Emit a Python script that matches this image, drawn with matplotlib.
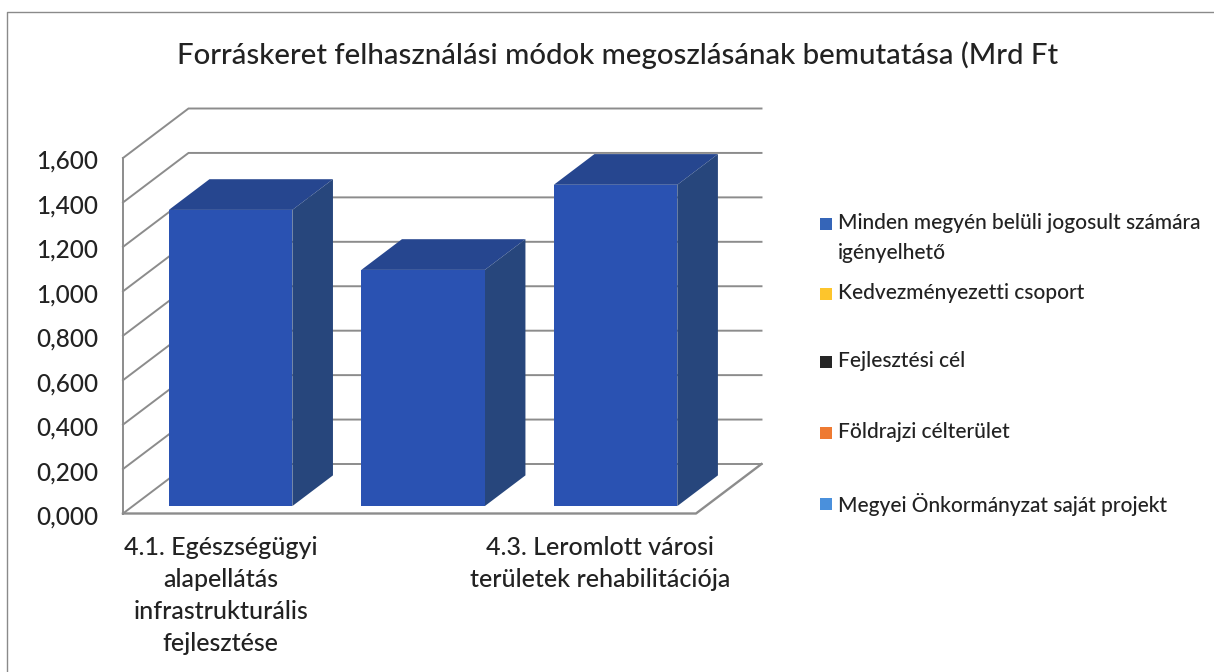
import numpy as np
import matplotlib
matplotlib.use('Agg')
import matplotlib.pyplot as plt
from matplotlib.patches import Rectangle
from matplotlib.transforms import ScaledTranslation

plt.rcParams['font.family'] = ['Lato', 'DejaVu Sans']
plt.rcParams['font.weight'] = 'medium'

# values
categories = ['4.1. Egészségügyi\nalapellátás\ninfrastrukturális\nfejlesztése', '',
              '4.3. Leromlott városi\nterületek rehabilitációja']
values = [1.333, 1.063, 1.446]
y_ticks = [0.0, 0.2, 0.4, 0.6, 0.8, 1.0, 1.2, 1.4, 1.6]
legend_labels = ['Minden megyén belüli jogosult számára\nigényelhető', 'Kedvezményezetti csoport',
                 'Fejlesztési cél', 'Földrajzi célterület', 'Megyei Önkormányzat saját projekt']
legend_colors = ['#3565b8', '#fdc52c', '#262626', '#ee7a32', '#4a90dc']

W, H = 1214, 672
fig = plt.figure(figsize=(W / 100, H / 100), dpi=100, facecolor='white')
ax = fig.add_axes([123 / W, 1 - 513.5 / H, 573 / W, 355.5 / H])
x_lo, x_hi = -0.508, 2.469
ax.set_xlim(x_lo, x_hi)
ax.set_ylim(0, 1.6)
ax.patch.set_visible(False)
for s in ax.spines.values():
    s.set_visible(False)

# oblique depth of the floor, in data units
x_unit = 573 / (x_hi - x_lo)
depth_x = 65.5 / x_unit
depth_y = 49.5 / (355.5 / 1.6)
grid_col = '#8c8c8c'
lw = 1.4

# back wall and left wall lines
for v in y_ticks:
    ax.plot([x_lo, x_lo + depth_x, x_hi + depth_x], [v, v + depth_y, v + depth_y],
            color=grid_col, lw=lw, clip_on=False, zorder=1, solid_joinstyle='miter')
ax.plot([x_lo, x_lo], [0, 1.6], color=grid_col, lw=lw, clip_on=False, zorder=1)
ax.plot([x_lo, x_hi, x_hi + depth_x], [0, 0, depth_y], color=grid_col, lw=lw + 0.3, clip_on=False, zorder=1)

# bars: front face, then top and side in oblique projection
bar_w = 123.5 / x_unit
d0 = 0.15
d1 = 0.77
for i, v in enumerate(values):
    xl = i + d0 * depth_x - bar_w / 2
    xr = xl + bar_w
    y0 = d0 * depth_y
    y1 = y0 + v
    dx = (d1 - d0) * depth_x
    dy = (d1 - d0) * depth_y
    ax.fill([xl, xr, xr + dx, xl + dx], [y1, y1, y1 + dy, y1 + dy], color='#26468f', lw=0, clip_on=False, zorder=3)
    ax.fill([xr, xr + dx, xr + dx, xr], [y0, y0 + dy, y1 + dy, y1], color='#27467c', lw=0, clip_on=False, zorder=3)
    ax.bar(i + d0 * depth_x, v, width=bar_w, bottom=y0, color='#2a52b2', lw=0, clip_on=False, zorder=4)

ax.set_yticks(y_ticks)
ax.set_yticklabels([f'{v:.3f}'.replace('.', ',') for v in y_ticks], fontsize=17.5, color='#222222')
ax.set_xticks([0, 1, 2])
ax.set_xticklabels(categories, fontsize=18, color='#222222', linespacing=1.48)
ax.tick_params(axis='both', length=0)
ax.tick_params(axis='y', pad=18)
ax.tick_params(axis='x', pad=16)

# nudge tick labels by a few pixels to sit where the scan has them
for lab in ax.get_yticklabels():
    lab.set_transform(lab.get_transform() + ScaledTranslation(0, -1.5 / 100, fig.dpi_scale_trans))
xlabs = ax.get_xticklabels()
xlabs[2].set_transform(xlabs[2].get_transform() + ScaledTranslation(-6 / 100, 0, fig.dpi_scale_trans))

fig.text(177 / W, 1 - 55 / H, 'Forráskeret felhasználási módok megoszlásának bemutatása (Mrd Ft',
         fontsize=21.2, color='#222222', va='center', ha='left')

# legend is placed by hand, the first entry takes two lines
row_y = [224, 294, 362, 433, 504]
for label, col, y in zip(legend_labels, legend_colors, row_y):
    fig.add_artist(Rectangle((820 / W, 1 - (y + 6) / H), 12 / W, 12 / H, transform=fig.transFigure,
                             facecolor=col, edgecolor='none'))
    fig.text(838 / W, 1 - (y - 11) / H, label, fontsize=15, color='#222222', va='top', ha='left',
             linespacing=1.62)

# scanned frame round the chart
fig.add_artist(plt.Line2D([7 / W, 7 / W, 1], [0, 1 - 12 / H, 1 - 12 / H], color='#8a8a8a', lw=1.0,
                          transform=fig.transFigure))

fig.savefig('out.png', dpi=100, facecolor='white')
